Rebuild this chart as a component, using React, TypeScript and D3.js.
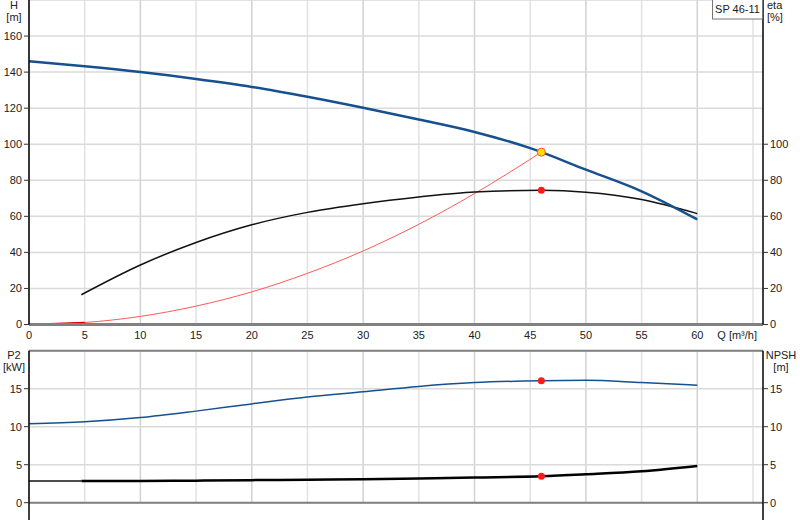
import { useEffect, useRef } from 'react';
import * as d3 from 'd3';

// curve data (Q in m³/h)
const qTicks = [0, 5, 10, 15, 20, 25, 30, 35, 40, 45, 50, 55, 60];
const hTicks = [0, 20, 40, 60, 80, 100, 120, 140, 160];
const etaTicks = [0, 20, 40, 60, 80, 100];
const lowTicks = [0, 5, 10, 15];

const headQ = [0, 5, 10, 15, 20, 25, 30, 35, 40, 45, 50, 55, 60];
const headH = [146, 143.2, 140, 136.2, 131.8, 126.3, 120.2, 113.7, 106.8, 97.8, 85.9, 73.9, 58.3];

const etaQ = [4.7, 10, 15, 20, 25, 30, 35, 40, 46, 50, 55, 60];
const etaVal = [16.5, 33, 45.5, 55.3, 62.2, 67, 70.7, 73.5, 74.4, 73.4, 69.3, 61.5];

const sysQ = [0, 5, 10, 15, 20, 25, 30, 35, 40, 46];
const sysH = [0, 1.1, 4.5, 10.2, 18.1, 28.4, 40.8, 55.6, 72.6, 95.6];

const p2Q = [0, 5, 10, 15, 20, 25, 30, 35, 40, 46, 50, 55, 60];
const p2Val = [10.4, 10.65, 11.2, 12.05, 13, 13.9, 14.6, 15.3, 15.8, 16.05, 16.1, 15.8, 15.45];

const npshQ = [0, 4.7, 10, 15, 20, 25, 30, 35, 40, 46, 50, 55, 60];
const npshVal = [2.85, 2.85, 2.87, 2.9, 2.97, 3.03, 3.1, 3.2, 3.32, 3.47, 3.73, 4.13, 4.83];

const duty = { q: 46, h: 95.6, eta: 74.4, p2: 16.05, npsh: 3.47 };

const font = 'Arial, "Liberation Sans", sans-serif';
const grid = '#dadada';
const blue = '#17508f';

export default function App() {
  const svgRef = useRef<SVGSVGElement>(null);

  useEffect(() => {
    if (!svgRef.current) return;
    const svg = d3.select(svgRef.current);
    svg.selectAll('*').remove();

    const left = 29;
    const right = 763;
    const x = d3.scaleLinear().domain([0, 65.9]).range([left, right]);
    const yTop = d3.scaleLinear().domain([0, 180]).range([324.5, 0]);
    const yLow = d3.scaleLinear().domain([0, 20]).range([502.7, 350.7]);

    const gridQ = [...qTicks, 65];

    function frame(y: d3.ScaleLinear<number, number>, yGrid: number[]) {
      const [y0, y1] = y.range();
      const g = svg.append('g');
      g.selectAll('.vg').data(gridQ).join('line')
        .attr('x1', (d) => x(d)).attr('x2', (d) => x(d))
        .attr('y1', y0).attr('y2', y1)
        .attr('stroke', (d, i) => (i % 2 ? '#e2e2e2' : '#d2d2d2')).attr('stroke-width', 1.5);
      g.selectAll('.hg').data(yGrid).join('line')
        .attr('x1', left).attr('x2', right)
        .attr('y1', (d) => y(d)).attr('y2', (d) => y(d))
        .attr('stroke', grid).attr('stroke-width', 1.5);
      return g;
    }

    function axisLeftTicks(y: d3.ScaleLinear<number, number>, ticks: number[], side: 'left' | 'right') {
      const g = svg.append('g');
      const x0 = side === 'left' ? left : right;
      const dir = side === 'left' ? -1 : 1;
      g.selectAll('line').data(ticks).join('line')
        .attr('x1', x0).attr('x2', x0 + dir * 5)
        .attr('y1', (d) => y(d)).attr('y2', (d) => y(d))
        .attr('stroke', '#333').attr('stroke-width', 1);
      g.selectAll('text').data(ticks).join('text')
        .attr('x', side === 'left' ? x0 - 7 : x0 + 7)
        .attr('y', (d) => y(d))
        .attr('dy', '0.35em')
        .attr('text-anchor', side === 'left' ? 'end' : 'start')
        .attr('font-size', 11).attr('font-family', font).attr('fill', '#222')
        .text((d) => d);
    }

    function label(lines: string[], xPos: number, yPos: number, anchor: string) {
      lines.forEach((t, i) => {
        svg.append('text')
          .attr('x', xPos).attr('y', yPos + i * 12)
          .attr('text-anchor', anchor)
          .attr('font-size', 11).attr('font-family', font).attr('fill', '#222')
          .text(t);
      });
    }

    // top: head / efficiency
    frame(yTop, [...hTicks, 180]);
    // bottom: power / NPSH
    frame(yLow, [...lowTicks, 20]);

    const line = (y: d3.ScaleLinear<number, number>) =>
      d3.line<[number, number]>().x((d) => x(d[0])).y((d) => y(d[1])).curve(d3.curveMonotoneX);
    const pairs = (qs: number[], vs: number[]) => qs.map((q, i) => [q, vs[i]] as [number, number]);

    svg.append('path').attr('d', line(yTop)(pairs(sysQ, sysH)))
      .attr('fill', 'none').attr('stroke', '#ff5a5a').attr('stroke-width', 1);
    svg.append('path').attr('d', line(yTop)(pairs(sysQ.slice(0, 2), sysH.slice(0, 2))))
      .attr('fill', 'none').attr('stroke', '#d40000').attr('stroke-width', 1.5);
    svg.append('path').attr('d', line(yTop)(pairs(etaQ, etaVal)))
      .attr('fill', 'none').attr('stroke', '#111').attr('stroke-width', 1.5);
    svg.append('path').attr('d', line(yTop)(pairs(headQ, headH)))
      .attr('fill', 'none').attr('stroke', blue).attr('stroke-width', 2.5);

    svg.append('path').attr('d', line(yLow)(pairs(p2Q, p2Val)))
      .attr('fill', 'none').attr('stroke', blue).attr('stroke-width', 1.5);
    svg.append('path').attr('d', line(yLow)(pairs(npshQ.slice(0, 2), npshVal.slice(0, 2))))
      .attr('fill', 'none').attr('stroke', '#111').attr('stroke-width', 1.5);
    svg.append('path').attr('d', line(yLow)(pairs(npshQ.slice(1), npshVal.slice(1))))
      .attr('fill', 'none').attr('stroke', '#000').attr('stroke-width', 2.5);

    // duty point markers
    svg.append('circle').attr('cx', x(duty.q)).attr('cy', yTop(duty.eta)).attr('r', 3.5).attr('fill', '#ff1a1a');
    svg.append('circle').attr('cx', x(duty.q)).attr('cy', yLow(duty.p2)).attr('r', 3.5).attr('fill', '#ff1a1a');
    svg.append('circle').attr('cx', x(duty.q)).attr('cy', yLow(duty.npsh)).attr('r', 3.5).attr('fill', '#ff1a1a');
    svg.append('circle').attr('cx', x(duty.q)).attr('cy', yTop(duty.h)).attr('r', 4)
      .attr('fill', '#ffe000').attr('stroke', '#ff5a2a').attr('stroke-width', 1);

    // axis lines
    svg.append('line').attr('x1', left).attr('x2', right).attr('y1', yTop(0)).attr('y2', yTop(0))
      .attr('stroke', '#808080').attr('stroke-width', 3);
    svg.append('line').attr('x1', left).attr('x2', right).attr('y1', yLow(0)).attr('y2', yLow(0))
      .attr('stroke', '#808080').attr('stroke-width', 2);
    svg.append('line').attr('x1', left).attr('x2', right).attr('y1', yLow(20)).attr('y2', yLow(20))
      .attr('stroke', '#808080').attr('stroke-width', 2);
    [left, right].forEach((xx) => {
      svg.append('line').attr('x1', xx).attr('x2', xx).attr('y1', 0).attr('y2', yTop(0))
        .attr('stroke', '#000').attr('stroke-width', 1.5);
      svg.append('line').attr('x1', xx).attr('x2', xx).attr('y1', yLow(20)).attr('y2', 520)
        .attr('stroke', '#000').attr('stroke-width', 1.5);
    });

    axisLeftTicks(yTop, hTicks, 'left');
    axisLeftTicks(yTop, etaTicks, 'right');
    axisLeftTicks(yLow, lowTicks, 'left');
    axisLeftTicks(yLow, lowTicks, 'right');

    // Q tick labels under the top plot
    svg.append('g').selectAll('text').data(qTicks).join('text')
      .attr('x', (d) => x(d)).attr('y', 339)
      .attr('text-anchor', 'middle')
      .attr('font-size', 11).attr('font-family', font).attr('fill', '#222')
      .text((d) => d);
    label(['Q [m³/h]'], 757, 339, 'end');

    label(['H', '[m]'], 14, 9, 'middle');
    label(['eta', '[%]'], 767, 9, 'start');
    label(['P2', '[kW]'], 14, 359, 'middle');
    label(['NPSH', '[m]'], 781, 359, 'middle');

    // pump name box
    svg.append('rect').attr('x', 712.5).attr('y', -1).attr('width', 50).attr('height', 20)
      .attr('fill', '#fff').attr('stroke', '#777').attr('stroke-width', 1);
    label(['SP 46-11'], 737.5, 13, 'middle');
  }, []);

  return (
    <svg
      ref={svgRef}
      width={800}
      height={520}
      style={{ position: 'absolute', left: 0, top: 0, background: '#fff' }}
    />
  );
}
